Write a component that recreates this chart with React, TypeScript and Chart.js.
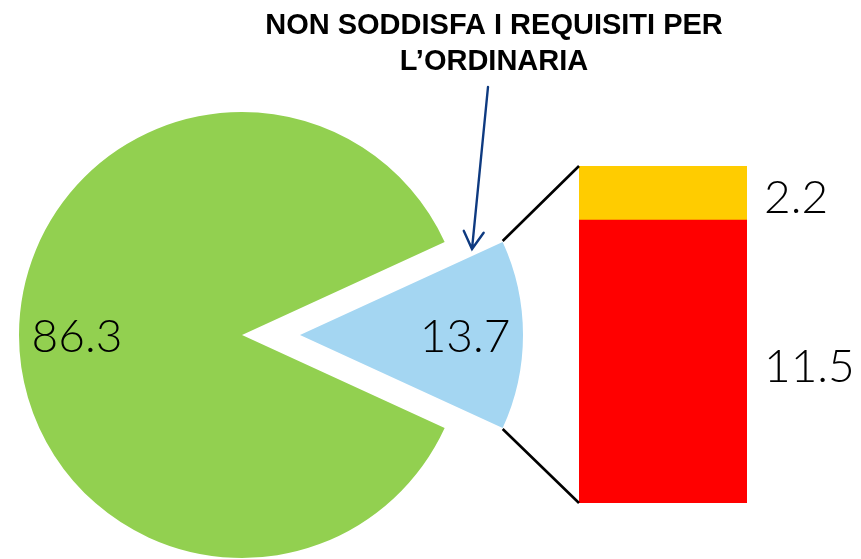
import React, { useEffect, useRef } from 'react';
import { Chart, registerables } from 'chart.js';

Chart.register(...registerables);

// ---- data ----
const pieCategories = ['Soddisfa i requisiti per l\u2019ordinaria', 'Non soddisfa i requisiti per l\u2019ordinaria'];
const pieValues = [86.3, 13.7];
const pieColors = ['#92d050', '#a4d6f2'];

const barCategories = ['Non soddisfa'];
const barSeriesNames = ['Quota 11.5', 'Quota 2.2'];
const barValues = [11.5, 2.2];
const barColors = ['#ff0000', '#ffcc00'];

const annotationLines = ['NON SODDISFA I REQUISITI PER', 'L\u2019ORDINARIA'];

// ---- layout ----
const W = 861;
const H = 559;
const PIE_CX = 242;
const PIE_CY = 335;
const PIE_R = 223;
const EXPLODE = 58;
const BAR_LEFT = 579;
const BAR_RIGHT = 747;
const BAR_TOP = 166;
const BAR_BOTTOM = 503;
const LABEL_FONT = '300 46px Lato, "DejaVu Sans", sans-serif';
const TITLE_FONT = 'bold 29px "Liberation Sans", Arial, sans-serif';
const TITLE_X = 494;
const TITLE_BASELINES = [34, 70];
const ARROW_FROM = [488, 87];
const ARROW_TO = [472, 249];

const pieTotal = pieValues.reduce((a, b) => a + b, 0);
const barTotal = barValues.reduce((a, b) => a + b, 0);

const explodePlugin = {
  id: 'explodeSlice',
  afterDatasetsUpdate(chart: any) {
    const arc: any = chart.getDatasetMeta(0).data[1];
    if (!arc) return;
    const mid = (arc.startAngle + arc.endAngle) / 2;
    arc.x += Math.cos(mid) * EXPLODE;
    arc.y += Math.sin(mid) * EXPLODE;
  },
};

const pieLabelPlugin = {
  id: 'pieLabels',
  afterDatasetsDraw(chart: any) {
    const ctx = chart.ctx;
    const meta = chart.getDatasetMeta(0);
    ctx.save();
    ctx.font = LABEL_FONT;
    ctx.fillStyle = '#000';
    ctx.textAlign = 'center';
    ctx.textBaseline = 'alphabetic';
    meta.data.forEach((arc: any, i: number) => {
      const mid = (arc.startAngle + arc.endAngle) / 2;
      const r = arc.outerRadius * 0.74;
      const x = arc.x + Math.cos(mid) * r;
      const y = arc.y + Math.sin(mid) * r;
      ctx.fillText(pieValues[i].toFixed(1), x, y + 17);
    });
    ctx.restore();
  },
};

function makeOverlayPlugin(pie: any) {
  return {
    id: 'overlay',
    afterDraw(chart: any) {
      const ctx = chart.ctx;
      // bar value labels
      ctx.save();
      ctx.font = LABEL_FONT;
      ctx.fillStyle = '#000';
      ctx.textAlign = 'left';
      ctx.textBaseline = 'alphabetic';
      chart.data.datasets.forEach((_: any, di: number) => {
        const bar: any = chart.getDatasetMeta(di).data[0];
        const cy = (bar.y + bar.base) / 2;
        ctx.fillText(barValues[di].toFixed(1), bar.x + bar.width / 2 + 17, cy + 20);
      });
      ctx.restore();

      // connectors from exploded slice to stacked bar
      const arc: any = pie.getDatasetMeta(0).data[1];
      const bottomBar: any = chart.getDatasetMeta(0).data[0];
      const topBar: any = chart.getDatasetMeta(chart.data.datasets.length - 1).data[0];
      const barLeft = bottomBar.x - bottomBar.width / 2;
      if (arc) {
        const r = arc.outerRadius;
        const p1 = [arc.x + Math.cos(arc.startAngle) * r, arc.y + Math.sin(arc.startAngle) * r];
        const p2 = [arc.x + Math.cos(arc.endAngle) * r, arc.y + Math.sin(arc.endAngle) * r];
        ctx.save();
        ctx.strokeStyle = '#000';
        ctx.lineWidth = 2.6;
        ctx.beginPath();
        ctx.moveTo(p1[0], p1[1] - 1);
        ctx.lineTo(barLeft, topBar.y);
        ctx.moveTo(p2[0], p2[1] + 1);
        ctx.lineTo(barLeft, bottomBar.base);
        ctx.stroke();
        ctx.restore();
      }

      // annotation title
      ctx.save();
      ctx.font = TITLE_FONT;
      ctx.fillStyle = '#000';
      ctx.textAlign = 'center';
      ctx.textBaseline = 'alphabetic';
      annotationLines.forEach((t, i) => ctx.fillText(t, TITLE_X, TITLE_BASELINES[i]));
      ctx.restore();

      // arrow
      ctx.save();
      ctx.strokeStyle = '#0e3a80';
      ctx.lineWidth = 2.4;
      ctx.lineCap = 'round';
      ctx.beginPath();
      ctx.moveTo(ARROW_FROM[0], ARROW_FROM[1]);
      ctx.lineTo(ARROW_TO[0], ARROW_TO[1]);
      const ang = Math.atan2(ARROW_FROM[1] - ARROW_TO[1], ARROW_FROM[0] - ARROW_TO[0]);
      const len = 20;
      const spread = (30 * Math.PI) / 180;
      ctx.moveTo(ARROW_TO[0] + Math.cos(ang - spread) * len, ARROW_TO[1] + Math.sin(ang - spread) * len);
      ctx.lineTo(ARROW_TO[0], ARROW_TO[1]);
      ctx.lineTo(ARROW_TO[0] + Math.cos(ang + spread) * len, ARROW_TO[1] + Math.sin(ang + spread) * len);
      ctx.stroke();
      ctx.restore();
    },
  };
}

export default function App() {
  const pieRef = useRef<HTMLCanvasElement>(null);
  const barRef = useRef<HTMLCanvasElement>(null);

  useEffect(() => {
    const pie = new Chart(pieRef.current as HTMLCanvasElement, {
      type: 'pie',
      data: {
        labels: pieCategories,
        datasets: [
          {
            data: pieValues,
            backgroundColor: pieColors,
            borderWidth: 0,
          },
        ],
      },
      options: {
        responsive: false,
        animation: false,
        events: [],
        rotation: 90 + (pieValues[1] / pieTotal) * 180,
        radius: PIE_R,
        layout: {
          padding: { left: 0, right: W - 2 * PIE_CX, top: 2 * PIE_CY - H, bottom: 0 },
        },
        plugins: {
          legend: { display: false },
          tooltip: { enabled: false },
        },
      } as any,
      plugins: [explodePlugin, pieLabelPlugin],
    });

    const bar = new Chart(barRef.current as HTMLCanvasElement, {
      type: 'bar',
      data: {
        labels: barCategories,
        datasets: barValues.map((v, i) => ({
          label: barSeriesNames[i],
          data: [v],
          backgroundColor: barColors[i],
          borderWidth: 0,
          barPercentage: 1,
          categoryPercentage: 1,
        })),
      },
      options: {
        responsive: false,
        animation: false,
        events: [],
        layout: {
          padding: { left: BAR_LEFT, right: W - BAR_RIGHT, top: BAR_TOP, bottom: H - BAR_BOTTOM },
        },
        scales: {
          x: { display: false, stacked: true },
          y: { display: false, stacked: true, min: 0, max: barTotal },
        },
        plugins: {
          legend: { display: false },
          tooltip: { enabled: false },
        },
      } as any,
      plugins: [makeOverlayPlugin(pie)],
    });

    return () => {
      bar.destroy();
      pie.destroy();
    };
  }, []);

  return (
    <div style={{ position: 'fixed', left: 0, top: 0, width: W, height: H, background: '#fff' }}>
      <canvas ref={pieRef} width={W} height={H} style={{ position: 'absolute', left: 0, top: 0 }} />
      <canvas ref={barRef} width={W} height={H} style={{ position: 'absolute', left: 0, top: 0 }} />
    </div>
  );
}
